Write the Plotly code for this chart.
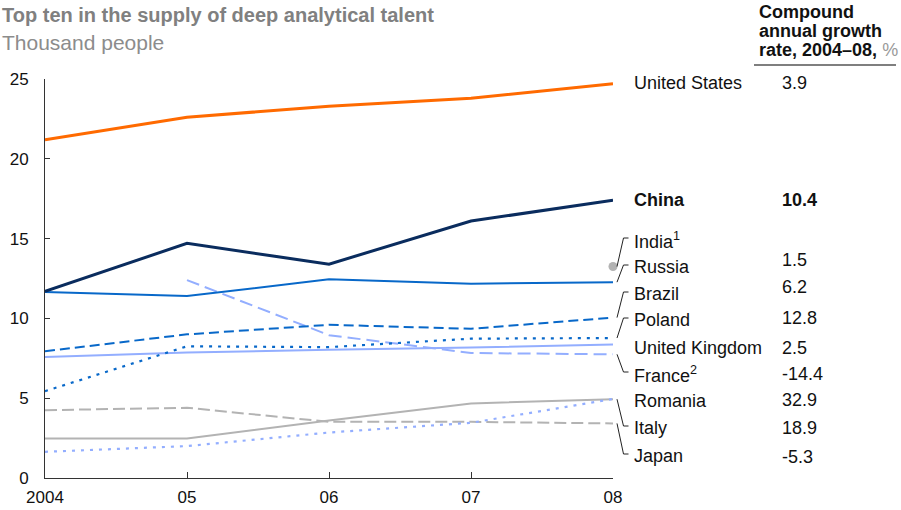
import plotly.graph_objects as go

# ---- data (thousand people) ----
years = [2004, 2005, 2006, 2007, 2008]
year_labels = ["2004", "05", "06", "07", "08"]

united_states = [21.2, 22.6, 23.3, 23.8, 24.7]
china = [11.7, 14.7, 13.4, 16.1, 17.4]
india_2008 = [13.25]
russia = [11.65, 11.4, 12.45, 12.17, 12.27]
brazil = [7.94, 9.0, 9.6, 9.35, 10.05]
poland = [5.44, 8.25, 8.2, 8.73, 8.77]
united_kingdom = [7.58, 7.86, 8.04, 8.17, 8.36]
france_years = [2005, 2006, 2007, 2008]
france = [12.4, 8.95, 7.83, 7.75]
romania = [1.64, 2.0, 2.85, 3.46, 4.95]
italy = [2.48, 2.48, 3.6, 4.67, 4.94]
japan = [4.25, 4.4, 3.52, 3.52, 3.42]

countries = ["United States", "China", "India<sup>1</sup>", "Russia", "Brazil", "Poland",
             "United Kingdom", "France<sup>2</sup>", "Romania", "Italy", "Japan"]
cagr = ["3.9", "10.4", "", "1.5", "6.2", "12.8", "2.5", "-14.4", "32.9", "18.9", "-5.3"]

# ---- styling ----
FONT = "Liberation Sans, Arial, sans-serif"
ORANGE = "#FF6A00"
NAVY = "#0A2C5E"
BLUE = "#0868C9"
LIGHT = "#93AEFF"
GREY = "#B3B3B3"
TEXT = "#111111"

W, H = 901, 510
L, R, T, B = 45, 288, 79, 32
Y_RANGE = [0, 25]
plot_w = W - L - R
plot_h = H - T - B


def px_x(px):
    """page x pixel -> paper x"""
    return (px - L) / plot_w


def px_y(py):
    """page y pixel -> paper y"""
    return (H - B - py) / plot_h


def val_y(v):
    """data value -> paper y"""
    return (v - Y_RANGE[0]) / (Y_RANGE[1] - Y_RANGE[0])


fig = go.Figure()


def add_line(x, y, color, width, dash="solid"):
    fig.add_trace(go.Scatter(x=x, y=y, mode="lines",
                             line=dict(color=color, width=width, dash=dash),
                             cliponaxis=False, hoverinfo="skip"))


add_line(years, japan, GREY, 2, "12px,5px")
add_line(years, italy, GREY, 2)
add_line(years, romania, LIGHT, 2.2, "3px,6px")
add_line(france_years, france, LIGHT, 2, "13px,6px")
add_line(years, united_kingdom, LIGHT, 2)
add_line(years, poland, BLUE, 2.2, "3px,6px")
add_line(years, brazil, BLUE, 2, "10px,5px")
add_line(years, russia, BLUE, 2)
add_line(years, china, NAVY, 3)
add_line(years, united_states, ORANGE, 3)
fig.add_trace(go.Scatter(x=[years[-1]], y=india_2008, mode="markers",
                         marker=dict(color=GREY, size=9), cliponaxis=False,
                         hoverinfo="skip"))

# label rows on the right (page pixel rows)
label_rows = [83, 200, 240, 267, 294, 320, 348, 374, 401, 428, 456]
value_rows = [83, 200, 240, 260, 287, 318, 348, 374, 400, 428, 457]
bold_rows = {1}

annotations = []
for i, (name, val) in enumerate(zip(countries, cagr)):
    nm = f"<b>{name}</b>" if i in bold_rows else name
    vv = f"<b>{val}</b>" if i in bold_rows else val
    annotations.append(dict(xref="paper", yref="paper", x=px_x(632), y=px_y(label_rows[i]),
                            text=nm, showarrow=False, xanchor="left", yanchor="middle",
                            font=dict(family=FONT, size=18, color=TEXT)))
    if val:
        annotations.append(dict(xref="paper", yref="paper", x=px_x(780), y=px_y(value_rows[i]),
                                text=vv, showarrow=False, xanchor="left", yanchor="middle",
                                font=dict(family=FONT, size=18, color=TEXT)))

# column header
header = ["<b>Compound</b>", "<b>annual growth</b>",
          "<b>rate, 2004–08,</b> <span style='color:#9a9a9a'>%</span>"]
for txt, row in zip(header, [12, 31, 50]):
    annotations.append(dict(xref="paper", yref="paper", x=px_x(757), y=px_y(row),
                            text=txt, showarrow=False, xanchor="left", yanchor="middle",
                            font=dict(family=FONT, size=18, color=TEXT)))

# title and unit
annotations.append(dict(xref="paper", yref="paper", x=px_x(0), y=px_y(15),
                        text="<b>Top ten in the supply of deep analytical talent</b>",
                        showarrow=False, xanchor="left", yanchor="middle",
                        font=dict(family=FONT, size=20, color="#808080")))
annotations.append(dict(xref="paper", yref="paper", x=px_x(0), y=px_y(42),
                        text="Thousand people", showarrow=False, xanchor="left",
                        yanchor="middle", font=dict(family=FONT, size=21, color="#8c8c8c")))

shapes = [dict(type="line", xref="paper", yref="paper", x0=px_x(754), x1=px_x(896),
               y0=px_y(65), y1=px_y(65), line=dict(color="#555555", width=1.5))]

# leader lines from series end values to their labels
ends = {
    2: india_2008[-1], 3: russia[-1], 4: brazil[-1], 5: poland[-1],
    7: france[-1], 9: italy[-1], 10: japan[-1],
}
for idx, v in ends.items():
    y_start = val_y(v)
    y_end = px_y(label_rows[idx] - 2)
    x0, x1, x2 = px_x(617), px_x(623.5), px_x(628.5)
    shapes.append(dict(type="path", xref="paper", yref="paper",
                       path=f"M {x0} {y_start} L {x1} {y_end} L {x2} {y_end}",
                       line=dict(color="#222222", width=1)))

fig.update_layout(
    template="none",
    width=W, height=H,
    margin=dict(l=L, r=R, t=T, b=B, autoexpand=False),
    paper_bgcolor="white", plot_bgcolor="white",
    showlegend=False,
    annotations=annotations,
    shapes=shapes,
    font=dict(family=FONT, color=TEXT),
)
fig.update_xaxes(range=[years[0], years[-1]], tickvals=years, ticktext=year_labels,
                 showgrid=False, zeroline=False, showline=True, linecolor="#333333",
                 linewidth=1, ticks="inside", ticklen=6, tickcolor="#333333",
                 automargin=False,
                 tickfont=dict(family=FONT, size=17, color=TEXT), ticklabelstandoff=4)
fig.update_yaxes(range=Y_RANGE, tickvals=[0, 5, 10, 15, 20, 25],
                 showgrid=False, zeroline=False, showline=True, linecolor="#333333",
                 linewidth=1, ticks="inside", ticklen=5, tickcolor="#333333",
                 automargin=False,
                 tickfont=dict(family=FONT, size=17, color=TEXT), ticklabelstandoff=12)

fig.write_html("out.html")
